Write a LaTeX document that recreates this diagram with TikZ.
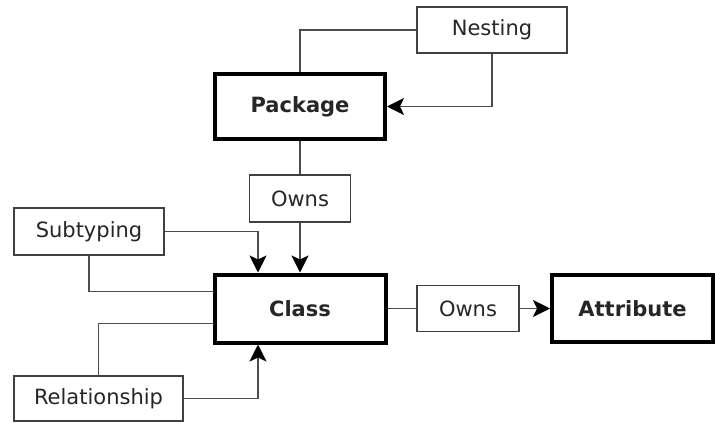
\documentclass[tikz,border=0pt]{standalone}
\usepackage{fontspec}
\setmainfont{DejaVu Sans}
\usetikzlibrary{arrows.meta}
\begin{document}
\begin{tikzpicture}[x=1pt,y=1pt,
  every node/.style={font=\fontsize{21}{25}\selectfont, text=black!85, inner sep=0pt},
  labelbox/.style={draw=black!75, line width=1.8pt, fill=white},
  mainbox/.style={draw=black, line width=4pt, fill=white, font=\fontsize{21}{25}\selectfont\bfseries},
  link/.style={draw=black!70, line width=1.8pt},
  flow/.style={link, -{Stealth[length=17pt, width=17pt, inset=4pt, color=black]}}
]
\useasboundingbox (0,0) rectangle (715,-423);

% boxes
\node[labelbox, minimum width=150pt, minimum height=46pt] (nesting) at (492,-30) {Nesting};
\node[mainbox, minimum width=170pt, minimum height=65pt] (package) at (300,-106.5) {Package};
\node[labelbox, minimum width=101pt, minimum height=47pt] (ownsP) at (300,-198.5) {Owns};
\node[labelbox, minimum width=150pt, minimum height=47pt] (subtyping) at (89,-231.5) {Subtyping};
\node[mainbox, minimum width=171pt, minimum height=68pt] (class) at (300,-308.5) {Class};
\node[labelbox, minimum width=169pt, minimum height=45pt] (relationship) at (98.5,-398.5) {Relationship};
\node[labelbox, minimum width=102pt, minimum height=46pt] (ownsC) at (468,-308.5) {Owns};
\node[mainbox, minimum width=161pt, minimum height=67pt] (attribute) at (632.5,-308.5) {Attribute};

% anchor points on the Class box
\coordinate (classInTop) at ([xshift=-42pt]class.north);
\coordinate (classInBot) at ([xshift=-42pt]class.south);
\coordinate (classWestHi) at ([yshift=17pt]class.west);
\coordinate (classWestLo) at ([yshift=-15pt]class.west);

% nesting loop on Package
\draw[link] (package.north) |- (nesting.west);
\draw[flow] (nesting.south) |- (package.east);

% package owns classes
\draw[link] (package.south) -- (ownsP.north);
\draw[flow] (ownsP.south) -- (class.north);

% subtyping loop on Class
\draw[link] (subtyping.south) |- (classWestHi);
\draw[flow] (subtyping.east) -| (classInTop);

% relationship loop on Class
\draw[link] (relationship.north) |- (classWestLo);
\draw[flow] (relationship.east) -| (classInBot);

% class owns attributes
\draw[link] (class.east) -- (ownsC.west);
\draw[flow] (ownsC.east) -- (attribute.west);
\end{tikzpicture}
\end{document}
